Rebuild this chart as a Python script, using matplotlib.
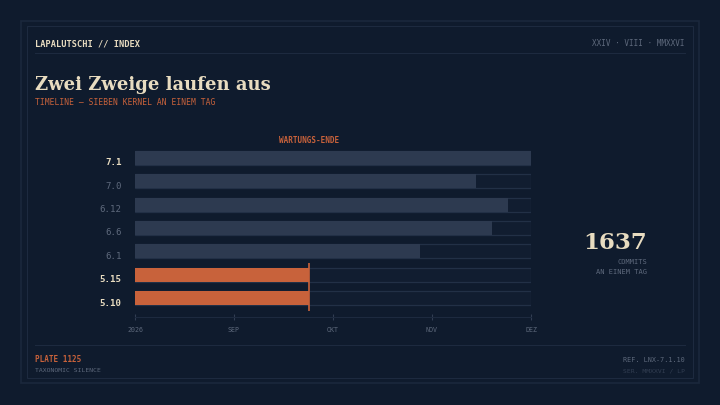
import matplotlib
matplotlib.use("Agg")
import matplotlib.pyplot as plt
from matplotlib.patches import Rectangle
from matplotlib.lines import Line2D

# =========================
# DATA
# =========================
kernels = ["7.1", "7.0", "6.12", "6.6", "6.1", "5.15", "5.10"]
# end of support, in months after Aug 2026 (0 = "2026", 4 = DEZ)
support_end = [4.0, 3.44, 3.77, 3.61, 2.88, 1.76, 1.76]
ending = [False, False, False, False, False, True, True]
highlight = [True, False, False, False, False, True, True]
month_ticks = [0, 1, 2, 3, 4]
month_labels = ["2026", "SEP", "OKT", "NOV", "DEZ"]
eol_mark = 1.76
commits = 1637

# =========================
# STYLE
# =========================
BG = "#0f1b2d"
FRAME = "#1b283c"
RULE = "#1d2a3f"
EDGE = "#223046"
CREAM = "#e8dcc0"
ORANGE = "#c8623b"
GREY = "#5e697c"
DIM = "#323e52"
BAR = "#2d3a50"
TRACK = "#111d30"
MONO = "DejaVu Sans Mono"
SERIF = "DejaVu Serif"

W, H = 720, 405


def fx(px):
    return px / W


def fy(py):
    return 1 - py / H


fig = plt.figure(figsize=(7.2, 4.05), dpi=100, facecolor=BG)

# frames
fig.patches.append(Rectangle((fx(21), fy(383)), fx(699) - fx(21), fy(21) - fy(383),
                             transform=fig.transFigure, fill=False, ec=FRAME, lw=1.2))
fig.patches.append(Rectangle((fx(27), fy(378)), fx(693) - fx(27), fy(26) - fy(378),
                             transform=fig.transFigure, fill=False, ec=RULE, lw=0.8))
for yy in (53, 345):
    fig.lines.append(Line2D([fx(35), fx(685)], [fy(yy), fy(yy)],
                            transform=fig.transFigure, color=RULE, lw=0.8))

# header
fig.text(fx(35), fy(44), "LAPALUTSCHI // INDEX", color=CREAM, fontsize=6.2,
         family=MONO, weight="bold", va="center", ha="left")
fig.text(fx(685), fy(44), "XXIV · VIII · MMXXVI", color=GREY, fontsize=5.5,
         family=MONO, va="center", ha="right")
fig.text(fx(35), fy(85), "Zwei Zweige laufen aus", color=CREAM, fontsize=13.0,
         family=SERIF, weight="bold", va="center", ha="left")
fig.text(fx(35), fy(102.5), "TIMELINE — SIEBEN KERNEL AN EINEM TAG", color=ORANGE,
         fontsize=5.8, family=MONO, va="center", ha="left")

# =========================
# BARS
# =========================
top_px, bot_px = 146, 317
ax = fig.add_axes([fx(135), fy(bot_px), fx(531) - fx(135), fy(top_px) - fy(bot_px)])
ax.set_facecolor("none")
ypos = list(range(len(kernels)))
ax.barh(ypos, [4] * len(kernels), height=0.6, left=0, color=TRACK, edgecolor=EDGE, lw=0.9)
colors = [ORANGE if e else BAR for e in ending]
ax.barh(ypos, support_end, height=0.6, left=0, color=colors, edgecolor="none")
ax.vlines(eol_mark, 4.5, 6.56, color=ORANGE, lw=1.2)
ax.text(eol_mark, -0.73, "WARTUNGS-ENDE", color=ORANGE, fontsize=5.5, family=MONO,
        weight="bold", ha="center", va="center", clip_on=False)

for i, (k, hl) in enumerate(zip(kernels, highlight)):
    ax.annotate(k, xy=(0, i), xycoords=("axes fraction", "data"),
                xytext=(-9.5, -3.6), textcoords="offset points",
                ha="right", va="center", fontsize=6.6, family=MONO,
                color=CREAM if hl else GREY, weight="bold" if hl else "normal")

ax.set_xlim(0, 4)
ax.set_ylim(6.81, -0.51)
ax.set_yticks([])
ax.set_xticks(month_ticks)
ax.set_xticklabels(month_labels, family=MONO, fontsize=4.8, color=GREY)
ax.tick_params(axis="x", direction="inout", length=5, width=0.8, color=DIM, pad=5)
for s in ("top", "right", "left"):
    ax.spines[s].set_visible(False)
ax.spines["bottom"].set_color(RULE)
ax.spines["bottom"].set_linewidth(0.8)

# =========================
# SIDE STAT
# =========================
fig.text(fx(647), fy(243), str(commits), color=CREAM, fontsize=16.5, family=SERIF,
         weight="bold", ha="right", va="center")
fig.text(fx(647), fy(262), "COMMITS", color=GREY, fontsize=5, family=MONO,
         ha="right", va="center")
fig.text(fx(647), fy(272.5), "AN EINEM TAG", color=GREY, fontsize=5, family=MONO,
         ha="right", va="center")

# footer
fig.text(fx(35), fy(360), "PLATE 1125", color=ORANGE, fontsize=5.5, family=MONO,
         weight="bold", ha="left", va="center")
fig.text(fx(35), fy(371), "TAXONOMIC SILENCE", color=GREY, fontsize=4.6, family=MONO,
         ha="left", va="center")
fig.text(fx(685), fy(360), "REF. LNX-7.1.10", color=GREY, fontsize=4.9, family=MONO,
         ha="right", va="center")
fig.text(fx(685), fy(371), "SER. MMXXVI / LP", color=DIM, fontsize=4.6, family=MONO,
         ha="right", va="center")

plt.savefig("out.png", dpi=100, facecolor=BG)
